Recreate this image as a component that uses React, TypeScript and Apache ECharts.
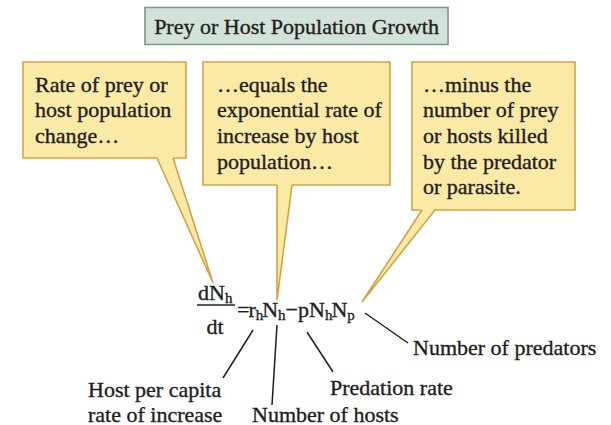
import React, { useEffect, useRef } from "react";
import * as echarts from "echarts";

const titleText = "Prey or Host Population Growth";
const box1Lines = ["Rate of prey or", "host population", "change…"];
const box2Lines = ["…equals the", "exponential rate of", "increase by host", "population…"];
const box3Lines = ["…minus the", "number of prey", "or hosts killed", "by the predator", "or parasite."];
const hostLabel = ["Host per capita", "rate of increase"];
const hostsLabel = "Number of hosts";
const predationLabel = "Predation rate";
const predatorsLabel = "Number of predators";
// equation tokens: [text, isSubscript]
const numeratorTokens: [string, boolean][] = [["d", false], ["N", false], ["h", true]];
const denominatorText = "dt";
const rhsTokens: [string, boolean][] = [
  ["=", false], ["r", false], ["h", true], ["N", false], ["h", true],
  ["−", false], ["p", false], ["N", false], ["h", true], ["N", false], ["p", true],
];

const FONT = "Liberation Serif";
const INK = "#1e1e1e";
const YEL = "#fbe9a6";
const GOLD = "#d7a246";

function txt(x: number, y: number, text: string, size = 22, align = "left") {
  return {
    type: "text",
    x,
    y,
    silent: true,
    style: {
      text,
      fontSize: size,
      fontFamily: FONT,
      fill: INK,
      stroke: INK,
      lineWidth: 0.35,
      align,
      verticalAlign: "middle",
      textAlign: align,
      textVerticalAlign: "middle",
    },
  };
}

function charW(t: string, sub: boolean) {
  const w: Record<string, number> = { d: 0.5, N: 0.722, h: 0.5, p: 0.5, r: 0.333, "=": 0.564, "−": 0.564 };
  const size = sub ? 15 : 22;
  return (w[t] ?? 0.5) * size;
}

function tokens(x0: number, yMid: number, toks: [string, boolean][], gaps: Record<number, number> = {}) {
  const out: any[] = [];
  let x = x0;
  toks.forEach(([t, sub], i) => {
    x += gaps[i] ?? 0;
    out.push(txt(x, sub ? yMid + 6 : yMid, t, sub ? 15 : 22));
    x += charW(t, sub);
  });
  return out;
}

function pointer(b1: [number, number], b2: [number, number], tip: [number, number]) {
  return [
    {
      type: "polygon",
      silent: true,
      shape: { points: [[b1[0], b1[1] - 1.5], [b2[0], b2[1] - 1.5], tip] },
      style: { fill: YEL, stroke: null },
    },
    {
      type: "polyline",
      silent: true,
      shape: { points: [b1, tip, b2] },
      style: { stroke: GOLD, lineWidth: 1.6, fill: null },
    },
  ];
}

function box(x: number, y: number, w: number, h: number) {
  return {
    type: "rect",
    silent: true,
    shape: { x, y, width: w, height: h },
    style: { fill: YEL, stroke: GOLD, lineWidth: 1.6 },
  };
}

function line(x1: number, y1: number, x2: number, y2: number) {
  return {
    type: "line",
    silent: true,
    shape: { x1, y1, x2, y2 },
    style: { stroke: INK, lineWidth: 1.5 },
  };
}

export default function App() {
  const ref = useRef<HTMLDivElement>(null);
  useEffect(() => {
    if (!ref.current) return;
    const chart = echarts.init(ref.current, null, { renderer: "svg" });
    const LH = 25.7;
    const graphic: any[] = [
      {
        type: "rect",
        silent: true,
        shape: { x: 145, y: 7.5, width: 303, height: 37 },
        style: { fill: "#d3e2d8", stroke: "#7a978a", lineWidth: 1.6 },
      },
      txt(296.5, 26.5, titleText, 22, "center"),
      box(23, 62, 163, 96),
      box(203, 62, 187, 123),
      box(412, 62, 163, 148),
      ...pointer([157, 158], [173, 158], [213, 283]),
      ...pointer([277, 185], [292, 185], [277, 300]),
      ...pointer([422, 210], [435, 210], [362, 302]),
      ...box1Lines.map((s, i) => txt(35, 84 + i * LH, s)),
      ...box2Lines.map((s, i) => txt(217, 84 + i * LH, s)),
      ...box3Lines.map((s, i) => txt(423, 84 + i * LH, s)),
      ...tokens(198, 292, numeratorTokens),
      line(197, 305, 235, 305),
      txt(215, 326, denominatorText, 22, "center"),
      ...tokens(237, 309, rhsTokens, { 1: -1, 3: -1, 9: -1 }),
      line(253, 330, 223, 378),
      line(277, 325, 272, 405),
      line(307, 332, 333, 372),
      line(365, 313, 408, 343),
      txt(88, 389, hostLabel[0]),
      txt(88, 414, hostLabel[1]),
      txt(252, 414, hostsLabel),
      txt(330, 387, predationLabel),
      txt(413, 347, predatorsLabel),
    ];
    chart.setOption({ animation: false, backgroundColor: "#ffffff", graphic });
    return () => chart.dispose();
  }, []);
  return (
    <div
      ref={ref}
      style={{ position: "fixed", left: 0, top: 0, width: 611, height: 425, background: "#fff" }}
    />
  );
}
